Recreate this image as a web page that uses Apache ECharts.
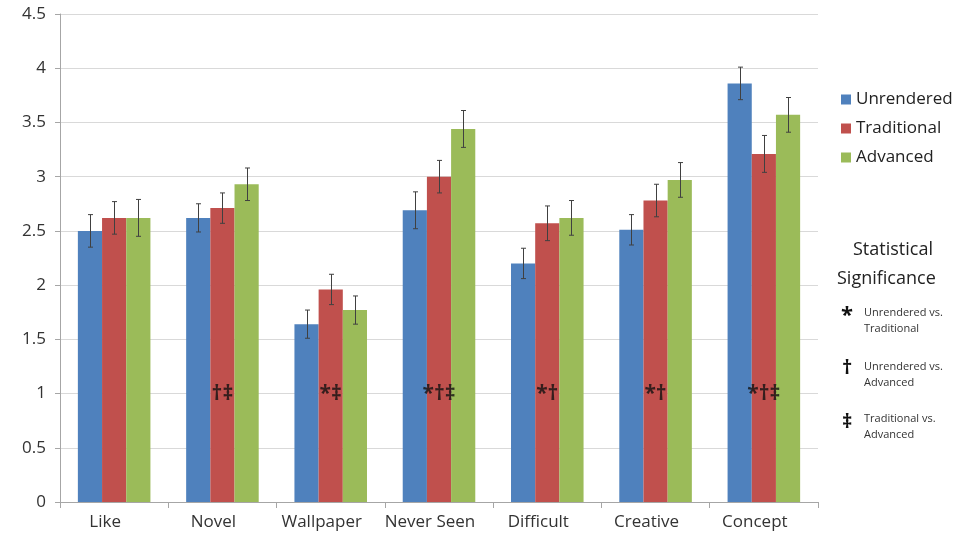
<!DOCTYPE html>
<html>
<head>
<meta charset="utf-8">
<script src="https://cdn.jsdelivr.net/npm/echarts@6/dist/echarts.min.js"></script>
<style>
  html, body { margin: 0; padding: 0; background: #fff; }
  #chart { width: 960px; height: 544px; }
</style>
</head>
<body>
<div id="chart"></div>
<script>
// Mean ratings per question for the three rendering styles, with error bars
const categories = ['Like', 'Novel', 'Wallpaper', 'Never Seen', 'Difficult', 'Creative', 'Concept'];
const seriesNames = ['Unrendered', 'Traditional', 'Advanced'];
const unrendered  = [2.50, 2.62, 1.64, 2.69, 2.20, 2.51, 3.86];
const traditional = [2.62, 2.71, 1.96, 3.00, 2.57, 2.78, 3.21];
const advanced    = [2.62, 2.93, 1.77, 3.44, 2.62, 2.97, 3.57];
const unrenderedErr  = [0.15, 0.13, 0.13, 0.17, 0.14, 0.14, 0.15];
const traditionalErr = [0.15, 0.14, 0.14, 0.15, 0.16, 0.15, 0.17];
const advancedErr    = [0.17, 0.15, 0.13, 0.17, 0.16, 0.16, 0.16];
// Significance markers drawn inside each group
const significance = ['', '†‡', '*‡', '*†‡', '*†', '*†', '*†‡'];
const significanceLevel = 1;
const yTicks = { min: 0, max: 4.5, interval: 0.5 };

const colors = ['#4F81BD', '#C0504D', '#9BBB59'];
const fontFamily = '"Open Sans", "Noto Sans", sans-serif';
const barGapRatio = 0.33;

const values = [unrendered, traditional, advanced];
const errs = [unrenderedErr, traditionalErr, advancedErr];

const errorData = [];
values.forEach((vals, s) => {
  vals.forEach((v, i) => errorData.push([i, v, errs[s][i], s]));
});

function renderError(params, api) {
  const i = api.value(0);
  const v = api.value(1);
  const e = api.value(2);
  const s = api.value(3);
  const band = api.size([1, 0])[0];
  const barW = band * (1 - barGapRatio) / 3;
  const center = api.coord([i, v]);
  const x = Math.round(center[0] + (s - 1) * barW) + 0.5;
  const yTop = api.coord([i, v + e])[1];
  const yBot = api.coord([i, v - e])[1];
  const cap = 2.5;
  const style = { stroke: '#404040', lineWidth: 1, fill: null };
  return {
    type: 'group',
    children: [
      { type: 'line', shape: { x1: x, y1: yTop, x2: x, y2: yBot }, style },
      { type: 'line', shape: { x1: x - cap, y1: yTop, x2: x + cap, y2: yTop }, style },
      { type: 'line', shape: { x1: x - cap, y1: yBot, x2: x + cap, y2: yBot }, style }
    ]
  };
}

const chart = echarts.init(document.getElementById('chart'), null, { renderer: 'canvas' });

const barSeries = seriesNames.map((name, s) => ({
  name,
  type: 'bar',
  data: values[s],
  barGap: '0%',
  barCategoryGap: (barGapRatio * 100) + '%',
  itemStyle: { color: colors[s] },
  z: 2
}));

const option = {
  animation: false,
  color: colors,
  textStyle: { fontFamily },
  grid: { left: 60, right: 142, top: 14, bottom: 42 },
  legend: {
    data: seriesNames,
    orient: 'vertical',
    left: 836,
    top: 86,
    itemWidth: 10,
    itemHeight: 10,
    itemGap: 12,
    icon: 'rect',
    textStyle: { fontSize: 17, color: '#222', fontFamily }
  },
  xAxis: {
    type: 'category',
    data: categories,
    axisLine: { lineStyle: { color: '#a6a6a6' } },
    axisTick: { show: true, length: 6, lineStyle: { color: '#a6a6a6' } },
    axisLabel: {
      interval: 0,
      hideOverlap: false,
      fontSize: 17,
      color: '#333',
      margin: 12,
      padding: [0, 18, 0, 0]
    }
  },
  yAxis: {
    type: 'value',
    min: yTicks.min,
    max: yTicks.max,
    interval: yTicks.interval,
    axisLine: { show: true, lineStyle: { color: '#a6a6a6' } },
    axisTick: { show: true, length: 5, lineStyle: { color: '#a6a6a6' } },
    splitLine: { lineStyle: { color: '#d9d9d9' } },
    axisLabel: { fontSize: 17, color: '#333', margin: 14 }
  },
  series: [
    ...barSeries,
    {
      name: 'errors',
      type: 'custom',
      renderItem: renderError,
      data: errorData,
      z: 3,
      silent: true
    },
    {
      name: 'significance',
      type: 'scatter',
      symbolSize: 0,
      data: significance.map((t, i) => [i, significanceLevel, t]),
      label: {
        show: true,
        position: 'inside',
        formatter: p => p.data[2],
        fontSize: 21,
        fontWeight: 'bold',
        color: '#111',
        fontFamily
      },
      z: 4,
      silent: true
    }
  ],
  graphic: [
    { type: 'text', left: 853, top: 241, style: { text: 'Statistical', font: '18px ' + fontFamily, fill: '#222' } },
    { type: 'text', left: 837, top: 270, style: { text: 'Significance', font: '18px ' + fontFamily, fill: '#222' } },

    { type: 'text', left: 841, top: 305, style: { text: '*', font: 'bold 22px ' + fontFamily, fill: '#111' } },
    { type: 'text', left: 864, top: 305, style: { text: 'Unrendered vs.\nTraditional', font: '11px ' + fontFamily, lineHeight: 16, fill: '#333' } },

    { type: 'text', left: 842, top: 358, style: { text: '†', font: 'bold 20px ' + fontFamily, fill: '#111' } },
    { type: 'text', left: 864, top: 359, style: { text: 'Unrendered vs.\nAdvanced', font: '11px ' + fontFamily, lineHeight: 16, fill: '#333' } },

    { type: 'text', left: 842, top: 412, style: { text: '‡', font: 'bold 20px ' + fontFamily, fill: '#111' } },
    { type: 'text', left: 864, top: 411, style: { text: 'Traditional vs.\nAdvanced', font: '11px ' + fontFamily, lineHeight: 16, fill: '#333' } }
  ]
};

chart.setOption(option);
</script>
</body>
</html>
